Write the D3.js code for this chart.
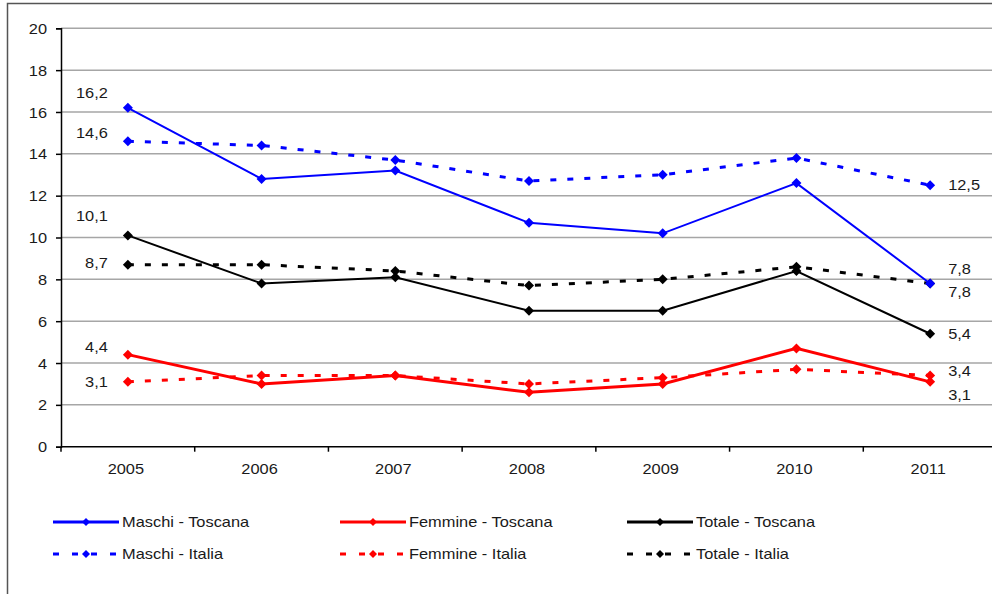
<!DOCTYPE html>
<html>
<head>
<meta charset="utf-8">
<script src="https://cdn.jsdelivr.net/npm/d3@7"></script>
<style>
  body { margin: 0; background: #fff; }
  svg { display: block; font-family: "Liberation Sans", Arial, sans-serif; }
</style>
</head>
<body>
<svg id="chart" width="992" height="594"></svg>
<script>
// ---- data ----
const years = ["2005", "2006", "2007", "2008", "2009", "2010", "2011"];
const yTicks = [0, 2, 4, 6, 8, 10, 12, 14, 16, 18, 20];
const maschiToscana  = [16.2, 12.8, 13.2, 10.7, 10.2, 12.6, 7.8];
const femmineToscana = [4.4, 3.0, 3.4, 2.6, 3.0, 4.7, 3.1];
const totaleToscana  = [10.1, 7.8, 8.1, 6.5, 6.5, 8.4, 5.4];
const maschiItalia   = [14.6, 14.4, 13.7, 12.7, 13.0, 13.8, 12.5];
const femmineItalia  = [3.1, 3.4, 3.4, 3.0, 3.3, 3.7, 3.4];
const totaleItalia   = [8.7, 8.7, 8.4, 7.7, 8.0, 8.6, 7.8];
const seriesNames = ["Maschi - Toscana", "Femmine - Toscana", "Totale - Toscana",
                     "Maschi - Italia", "Femmine - Italia", "Totale - Italia"];

// ---- styles ----
const seriesStyle = [
  { values: maschiToscana,  color: "#0000ff", dash: null,   width: 2, lab: [-15, 8] },
  { values: femmineToscana, color: "#ff0000", dash: null,   width: 3, lab: [-8, 13] },
  { values: totaleToscana,  color: "#000000", dash: null,   width: 2, lab: [-19, 0] },
  { values: maschiItalia,   color: "#0000ff", dash: "6,11", width: 3, lab: [-8, 0] },
  { values: femmineItalia,  color: "#ff0000", dash: "6,11", width: 3, lab: [0, -5] },
  { values: totaleItalia,   color: "#000000", dash: "6,11", width: 3, lab: [-2, -15] }
];
const FS = 14.5, SX = 1.13, TXT = "#1a1a1a";

const svg = d3.select("#chart");
const fmt = v => d3.format(".1f")(v).replace(".", ",");

// place text with a slight horizontal stretch (as in the reference)
function addText(parent, tx, ty, str, anchor) {
  return parent.append("text")
    .attr("transform", `translate(${tx},${ty}) scale(${SX},1)`)
    .attr("dy", "0.35em").attr("text-anchor", anchor)
    .attr("font-size", FS).attr("fill", TXT).text(str);
}

// outer frame
svg.append("rect").attr("x", 7.5).attr("y", 3.5).attr("width", 1000).attr("height", 620)
  .attr("fill", "#fff").attr("stroke", "#555").attr("stroke-width", 1.5);

const mLeft = 61, mRight = 997, mTop = 28.3, mBottom = 446.7;
const x = d3.scaleBand().domain(years).range([mLeft, mRight]);
const cx = d => x(d) + x.bandwidth() / 2;
const y = d3.scaleLinear().domain([0, 20]).range([mBottom, mTop]);

// gridlines
svg.append("g").selectAll("line").data(yTicks.filter(t => t > 0)).join("line")
  .attr("x1", mLeft).attr("x2", 992).attr("y1", d => y(d)).attr("y2", d => y(d))
  .attr("stroke", "#a6a6a6").attr("stroke-width", 1.5);

// y axis
const yAxis = svg.append("g").attr("transform", `translate(${mLeft},0)`)
  .call(d3.axisLeft(y).tickValues(yTicks).tickSize(5).tickFormat(d3.format("d")));
yAxis.select(".domain").attr("stroke", "#000").attr("stroke-width", 1.5);
yAxis.selectAll(".tick line").attr("stroke", "#000").attr("stroke-width", 1.5);
yAxis.selectAll(".tick text").remove();
yAxis.selectAll(".tick").each(function(d) { addText(d3.select(this), -14, 0, d, "end"); });

// x axis
const xAxis = svg.append("g").attr("transform", `translate(0,${mBottom})`);
xAxis.append("line").attr("x1", mLeft).attr("x2", 992).attr("y1", 0).attr("y2", 0)
  .attr("stroke", "#000").attr("stroke-width", 1.5);
xAxis.selectAll("line.tk").data(years).join("line").attr("class", "tk")
  .attr("x1", d => x(d)).attr("x2", d => x(d)).attr("y1", 0).attr("y2", 5)
  .attr("stroke", "#000").attr("stroke-width", 1.5);
years.forEach(d => addText(xAxis, cx(d) - 2, 22, d, "middle"));

const diamond = r => `M0,${-r}L${r},0L0,${r}L${-r},0Z`;

// lines
const line = d3.line().x((d, i) => cx(years[i])).y(d => y(d));
const g = svg.append("g");
const order = [3, 5, 4, 0, 2, 1];
order.forEach(si => {
  const s = seriesStyle[si];
  g.append("path").datum(s.values).attr("d", line).attr("fill", "none")
    .attr("stroke", s.color).attr("stroke-width", s.width)
    .attr("stroke-dasharray", s.dash);
  g.selectAll(null).data(s.values).join("path")
    .attr("d", diamond(5))
    .attr("transform", (d, i) => `translate(${cx(years[i])},${y(d)})`)
    .attr("fill", s.color);
});

// data labels (first and last year)
seriesStyle.forEach(s => {
  const n = s.values.length;
  addText(svg, cx(years[0]) - 20, y(s.values[0]) + s.lab[0], fmt(s.values[0]), "end");
  addText(svg, cx(years[n - 1]) + 18, y(s.values[n - 1]) + s.lab[1], fmt(s.values[n - 1]), "start");
});

// legend
const legX = [53, 340, 627], legY = [522, 554];
seriesStyle.forEach((s, i) => {
  const lx = legX[i % 3], ly = legY[Math.floor(i / 3)];
  const lg = svg.append("g").attr("transform", `translate(${lx},${ly})`);
  lg.append("line").attr("x1", 0).attr("x2", 66).attr("y1", 0).attr("y2", 0)
    .attr("stroke", s.color).attr("stroke-width", 3)
    .attr("stroke-dasharray", s.dash ? "6,13" : null);
  lg.append("path").attr("d", diamond(4)).attr("transform", "translate(33,0)").attr("fill", s.color);
  addText(lg, 69, 0, seriesNames[i], "start");
});
</script>
</body>
</html>
